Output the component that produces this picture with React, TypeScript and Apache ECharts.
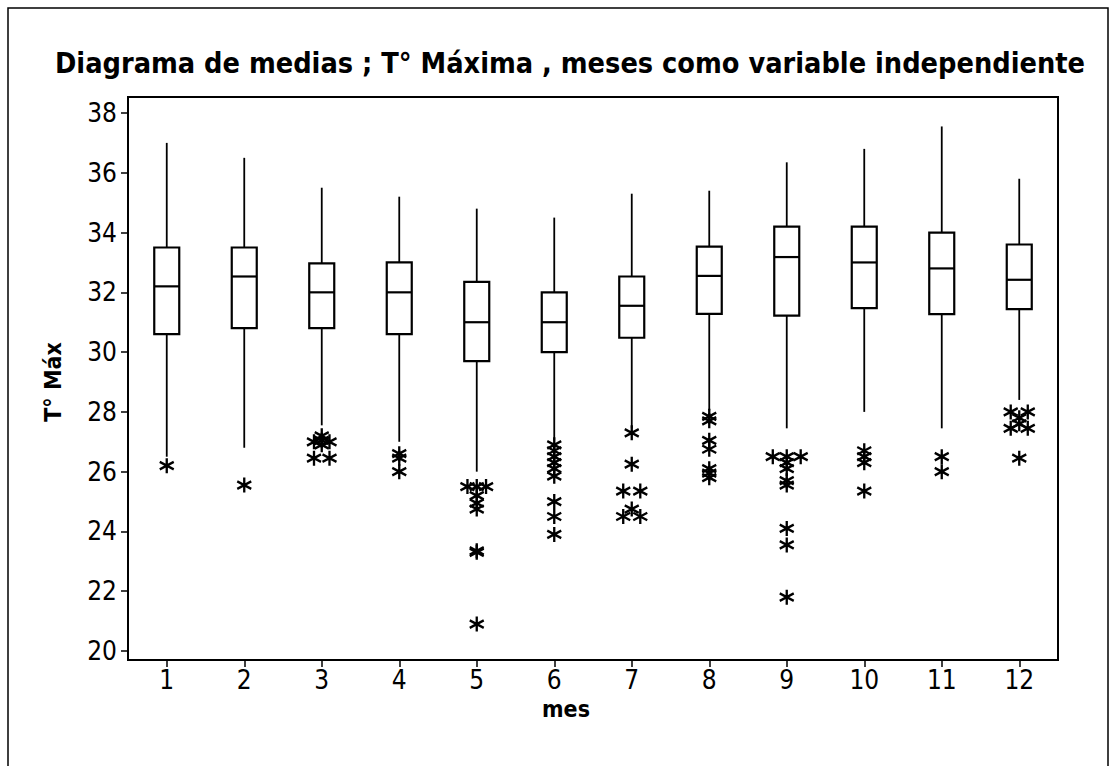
import React, { useEffect, useRef } from 'react';
import * as echarts from 'echarts';

const months = ['1', '2', '3', '4', '5', '6', '7', '8', '9', '10', '11', '12'];
const yTicks = [20, 22, 24, 26, 28, 30, 32, 34, 36, 38];

const whiskerLow = [26.5, 26.8, 27.55, 27.0, 26.0, 27.05, 27.45, 28.05, 27.45, 28.0, 27.45, 28.4];
const q1 = [30.6, 30.8, 30.8, 30.6, 29.7, 30.0, 30.48, 31.28, 31.22, 31.47, 31.27, 31.44];
const median = [32.2, 32.53, 32.0, 32.0, 31.0, 31.0, 31.55, 32.55, 33.18, 33.0, 32.8, 32.42];
const q3 = [33.5, 33.5, 32.97, 33.0, 32.35, 32.0, 32.53, 33.53, 34.2, 34.2, 34.0, 33.6];
const whiskerHigh = [37.0, 36.5, 35.5, 35.2, 34.8, 34.5, 35.3, 35.4, 36.35, 36.8, 37.55, 35.8];

const out1 = [[1, 26.2]];
const out2 = [[2, 25.55]];
const out3 = [[3, 27.2], [2.9, 27.0], [3.1, 27.0], [3, 27.05], [3, 26.9], [2.9, 26.45], [3.1, 26.45]];
const out4 = [[4, 26.6], [4, 26.45], [4, 26.0]];
const out5 = [[4.88, 25.5], [5, 25.5], [5.12, 25.5], [5, 25.2], [5, 24.95], [5, 24.75], [5, 23.35], [5, 23.3], [5, 20.9]];
const out6 = [[6, 26.9], [6, 26.7], [6, 26.5], [6, 26.3], [6, 26.1], [6, 25.85], [6, 25.0], [6, 24.5], [6, 23.9]];
const out7 = [[7, 27.3], [7, 26.25], [6.89, 25.35], [7.11, 25.35], [7, 24.75], [6.89, 24.5], [7.11, 24.5]];
const out8 = [[8, 27.85], [8, 27.7], [8, 27.05], [8, 26.75], [8, 26.1], [8, 25.95], [8, 25.8]];
const out9 = [[8.82, 26.5], [9, 26.5], [9.18, 26.5], [9, 26.3], [9, 26.1], [9, 25.7], [9, 25.55], [9, 24.1], [9, 23.55], [9, 21.8]];
const out10 = [[10, 26.7], [10, 26.5], [10, 26.3], [10, 25.35]];
const out11 = [[11, 26.5], [11, 26.0]];
const out12 = [[11.89, 28.0], [12.11, 28.0], [12, 27.8], [12, 27.6], [11.89, 27.45], [12.11, 27.45], [12, 26.45]];

const outliers = [...out1, ...out2, ...out3, ...out4, ...out5, ...out6, ...out7, ...out8, ...out9, ...out10, ...out11, ...out12];

const FONT = "'DejaVu Sans Condensed', 'DejaVu Sans', sans-serif";
const STAR = 'path://M6,0L6,14M0,3.5L12,10.5M0,10.5L12,3.5';

export default function App() {
  const ref = useRef<HTMLDivElement>(null);
  useEffect(() => {
    const chart = echarts.init(ref.current!, null, { renderer: 'svg' });
    const boxData = months.map((_, i) => [i, whiskerLow[i], q1[i], median[i], q3[i], whiskerHigh[i]]);
    chart.setOption({
      animation: false,
      backgroundColor: '#fff',
      title: {
        text: 'Diagrama de medias ; T° Máxima , meses como variable independiente',
        left: 50,
        top: 43,
        textStyle: { fontFamily: FONT, fontWeight: 'bold', fontSize: 28.6, color: '#000' },
      },
      grid: { left: 128, right: 56, top: 113, bottom: 115 },
      xAxis: [
        {
          type: 'category',
          data: months,
          offset: 9,
          name: 'mes',
          nameLocation: 'middle',
          nameGap: 37,
          nameMoveOverlap: false,
          nameTextStyle: { fontFamily: FONT, fontWeight: 'bold', fontSize: 23, color: '#000', padding: [0, 54, 0, 0] },
          axisLine: { show: false },
          axisTick: { show: true, alignWithLabel: true, length: 7, lineStyle: { color: '#000', width: 1.5 } },
          axisLabel: { fontFamily: FONT, fontSize: 26, color: '#000', margin: 7 },
          splitLine: { show: false },
        },
        {
          type: 'value',
          min: 0.5,
          max: 12.5,
          show: false,
        },
      ],
      yAxis: {
        type: 'value',
        min: yTicks[0],
        max: yTicks[yTicks.length - 1],
        interval: 2,
        name: 'T° Máx',
        nameLocation: 'middle',
        nameGap: 64,
        nameRotate: 90,
        nameMoveOverlap: false,
        nameTextStyle: { fontFamily: FONT, fontWeight: 'bold', fontSize: 23, color: '#000' },
        axisLine: { show: false },
        axisTick: { show: true, length: 7, lineStyle: { color: '#000', width: 1.5 } },
        axisLabel: { fontFamily: FONT, fontSize: 26, color: '#000', margin: 11 },
        splitLine: { show: false },
      },
      graphic: [
        { type: 'rect', shape: { x: 8, y: 8, width: 1100, height: 790 }, style: { fill: 'none', stroke: '#000', lineWidth: 1.5 }, silent: true },
        { type: 'rect', shape: { x: 128, y: 97, width: 930, height: 563 }, style: { fill: 'none', stroke: '#000', lineWidth: 2 }, silent: true, z: 10 },
      ],
      series: [
        {
          type: 'custom',
          xAxisIndex: 0,
          yAxisIndex: 0,
          data: boxData,
          encode: { x: 0, y: [1, 2, 3, 4, 5] },
          renderItem: (params: any, api: any) => {
            const x = api.value(0);
            const pLow = api.coord([x, api.value(1)]);
            const pQ1 = api.coord([x, api.value(2)]);
            const pMed = api.coord([x, api.value(3)]);
            const pQ3 = api.coord([x, api.value(4)]);
            const pHigh = api.coord([x, api.value(5)]);
            const cx = pMed[0];
            const hw = 12.5;
            const ls = { stroke: '#000', lineWidth: 1.8 };
            return {
              type: 'group',
              children: [
                { type: 'line', shape: { x1: cx, y1: pHigh[1], x2: cx, y2: pQ3[1] }, style: ls },
                { type: 'line', shape: { x1: cx, y1: pQ1[1], x2: cx, y2: pLow[1] }, style: ls },
                { type: 'rect', shape: { x: cx - hw, y: pQ3[1], width: hw * 2, height: pQ1[1] - pQ3[1] }, style: { fill: '#fff', stroke: '#000', lineWidth: 2.2 } },
                { type: 'line', shape: { x1: cx - hw, y1: pMed[1], x2: cx + hw, y2: pMed[1] }, style: { stroke: '#000', lineWidth: 2.2 } },
              ],
            };
          },
        },
        {
          type: 'scatter',
          xAxisIndex: 1,
          yAxisIndex: 0,
          data: outliers,
          symbol: STAR,
          symbolSize: [14, 15],
          itemStyle: { color: '#000', borderColor: '#000', borderWidth: 2.4, opacity: 1 },
          silent: true,
        },
      ],
    });
    return () => chart.dispose();
  }, []);
  return <div ref={ref} style={{ position: 'fixed', left: 0, top: 0, width: 1114, height: 766, background: '#fff' }} />;
}
